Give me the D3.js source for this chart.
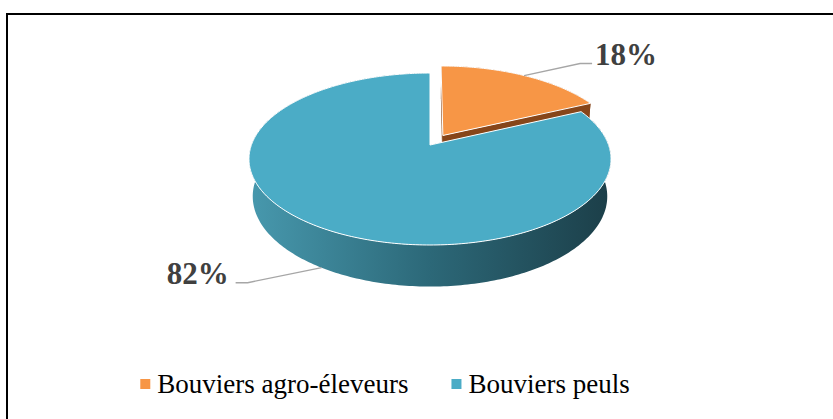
<!DOCTYPE html>
<html lang="fr">
<head>
  <meta charset="UTF-8">
  <script src="https://d3js.org/d3.v7.min.js"></script>
  <title>Bouviers</title>
  <style>
    body { margin: 0; background: #fff; overflow: hidden; }
    text { font-family: "Liberation Serif", "Times New Roman", serif; }
  </style>
</head>
<body>
<script>
  // data
  const categories = ["Bouviers agro-éleveurs", "Bouviers peuls"];
  const values = [18, 82];
  const explode = [0.137, 0];   // fraction of radius the slice is pulled out

  const width = 833, height = 419;

  const svg = d3.select("body").append("svg")
    .attr("width", width)
    .attr("height", height);

  // frame
  svg.append("rect")
    .attr("x", 7).attr("y", 14)
    .attr("width", 840).attr("height", 420)
    .attr("fill", "none")
    .attr("stroke", "#000")
    .attr("stroke-width", 2);

  const color = d3.scaleOrdinal().domain(categories).range(["#F79646", "#4BACC6"]);
  const sideColor = d3.scaleOrdinal().domain(categories).range(["#87461a", "url(#blueSide)"]);

  // 3D perspective projection of a unit disk (u = right, w = back, y = up)
  const cx = 430, cy = 145;
  const K = 178.6;
  const phi = Math.asin(83.7 / K);
  const D = Math.cos(phi) / 0.163;
  const T = 0.239; // disk thickness

  function proj(u, y, w) {
    const yc = y * Math.cos(phi) + w * Math.sin(phi);
    const dc = w * Math.cos(phi) - y * Math.sin(phi);
    const s = 1 / (1 + dc / D);
    return [cx + K * u * s, cy - K * yc * s];
  }

  const pie = d3.pie().sort(null).value(d => d.value);
  const arcs = pie(categories.map((c, i) => ({ name: c, value: values[i], ex: explode[i] })));

  const defs = svg.append("defs");
  const grad = defs.append("linearGradient")
    .attr("id", "blueSide")
    .attr("gradientUnits", "userSpaceOnUse")
    .attr("x1", cx - K).attr("x2", cx + K)
    .attr("y1", 0).attr("y2", 0);
  grad.append("stop").attr("offset", 0).attr("stop-color", "#4798ad");
  grad.append("stop").attr("offset", 0.5).attr("stop-color", "#2c6878");
  grad.append("stop").attr("offset", 1).attr("stop-color", "#1c3f49");

  const line = d3.line();

  function offsetOf(a) {
    const mid = (a.startAngle + a.endAngle) / 2;
    return [a.data.ex * Math.sin(mid), a.data.ex * Math.cos(mid)];
  }

  function rimPts(a, y) {
    const [ou, ow] = offsetOf(a);
    const n = Math.max(8, Math.ceil((a.endAngle - a.startAngle) * 60));
    return d3.range(n + 1).map(i => {
      const t = a.startAngle + (a.endAngle - a.startAngle) * i / n;
      return proj(ou + Math.sin(t), y, ow + Math.cos(t));
    });
  }

  const g = svg.append("g");

  // back slice (exploded) first, then the big one on top
  const order = arcs.slice().sort((p, q) => q.data.ex - p.data.ex);

  order.forEach(a => {
    const [ou, ow] = offsetOf(a);
    const topRim = rimPts(a, 0);
    const botRim = rimPts(a, -T);

    // outer wall
    g.append("path")
      .attr("d", line(topRim.concat(botRim.slice().reverse())) + "Z")
      .attr("fill", sideColor(a.data.name));

    // radial walls
    [a.startAngle, a.endAngle].forEach(t => {
      const pts = [
        proj(ou, 0, ow),
        proj(ou + Math.sin(t), 0, ow + Math.cos(t)),
        proj(ou + Math.sin(t), -T, ow + Math.cos(t)),
        proj(ou, -T, ow)
      ];
      g.append("path")
        .attr("d", line(pts) + "Z")
        .attr("fill", sideColor(a.data.name));
    });

    // top face
    g.append("path")
      .attr("d", line([proj(ou, 0, ow)].concat(topRim)) + "Z")
      .attr("fill", color(a.data.name))
      .attr("stroke", "#fff")
      .attr("stroke-width", 1)
      .attr("stroke-linejoin", "round");
  });

  // data labels with leader lines
  const labelG = svg.append("g");
  arcs.forEach((a, i) => {
    const [ou, ow] = offsetOf(a);
    const mid = (a.startAngle + a.endAngle) / 2;
    const back = Math.cos(mid) > 0;
    // leader starts on top rim for back slices, on wall bottom for front ones
    const p0 = proj(ou + Math.sin(mid), back ? 0 : -T, ow + Math.cos(mid));
    const right = Math.sin(mid) > 0;
    const p1 = right ? [p0[0] + 56, p0[1] - 12] : [p0[0] - 74, p0[1] + 15];
    const p2 = right ? [p1[0] + 12, p1[1]] : [p1[0] - 12, p1[1]];
    labelG.append("path")
      .attr("d", line([p0, p1, p2]))
      .attr("fill", "none")
      .attr("stroke", "#a6a6a6")
      .attr("stroke-width", 1.3);
    const pct = Math.round(a.value / d3.sum(values) * 100) + "%";
    labelG.append("text")
      .attr("x", right ? p2[0] + 3 : p2[0] - 7)
      .attr("y", p2[1] + (right ? 1 : 1))
      .attr("text-anchor", right ? "start" : "end")
      .attr("font-size", 31)
      .attr("font-weight", "bold")
      .attr("fill", "#404040")
      .text(pct);
  });

  // legend
  const legend = svg.append("g");
  const items = legend.selectAll("g")
    .data(categories)
    .enter().append("g");
  items.append("rect")
    .attr("width", 10).attr("height", 10)
    .attr("y", -14)
    .attr("fill", d => color(d));
  items.append("text")
    .attr("x", 17)
    .attr("font-size", 27)
    .attr("fill", "#000")
    .text(d => d);

  let x = 0;
  const gap = 43;
  items.each(function () {
    d3.select(this).attr("transform", `translate(${x},0)`);
    x += 17 + this.querySelector("text").getComputedTextLength() + gap;
  });
  const total = x - gap;
  legend.attr("transform", `translate(${385 - total / 2},393)`);
</script>
</body>
</html>
